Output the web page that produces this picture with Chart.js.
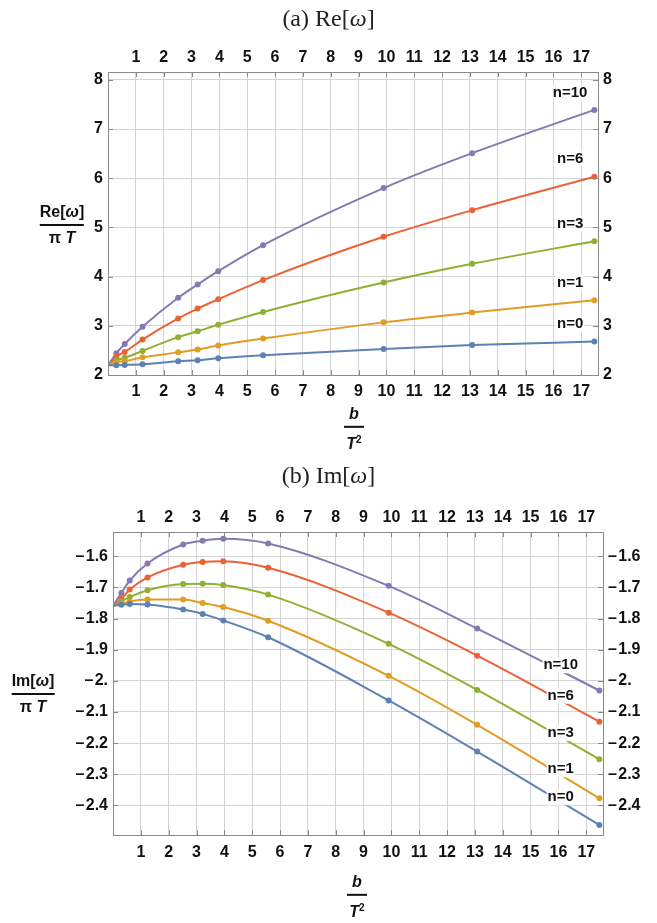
<!DOCTYPE html>
<html>
<head>
<meta charset="utf-8">
<script src="https://cdn.jsdelivr.net/npm/chart.js@4.4.1/dist/chart.umd.min.js"></script>
<style>
  body { margin: 0; background: #fff; }
  #wrap { position: relative; width: 657px; height: 923px; font-family: "Liberation Sans", Arial, sans-serif; }
  canvas { position: absolute; left: 0; }
  .cap { position: absolute; left: 0; width: 657px; text-align: center; font-family: "Liberation Serif", "DejaVu Serif", serif; font-size: 24px; color: #222; }
  .frac { position: absolute; font-weight: bold; font-size: 16px; color: #111; text-align: center; transform: translate(-50%, -50%); line-height: 18px; }
  .frac .bar { height: 2px; background: #111; margin: 3px 0 3px 0; }
</style>
</head>
<body>
<div id="wrap">
  <canvas id="ca" width="657" height="460" style="top:0;width:657px;height:460px"></canvas>
  <canvas id="cb" width="657" height="463" style="top:460px;width:657px;height:463px"></canvas>

  <div class="cap" style="top:5px">(a) Re[<i>ω</i>]</div>
  <div class="cap" style="top:462px">(b) Im[<i>ω</i>]</div>

  <div class="frac" style="left:62px;top:225px"><div>Re[<i>ω</i>]</div><div class="bar"></div><div>π <i>T</i></div></div>
  <div class="frac" style="left:33px;top:694px"><div>Im[<i>ω</i>]</div><div class="bar"></div><div>π <i>T</i></div></div>

  <div class="frac" style="left:354px;top:429px"><div><i>b</i></div><div class="bar" style="width:20px"></div><div><i>T</i><sup style="font-size:10px">2</sup></div></div>
  <div class="frac" style="left:357px;top:897px"><div><i>b</i></div><div class="bar" style="width:20px"></div><div><i>T</i><sup style="font-size:10px">2</sup></div></div>
</div>

<script>
// b / T^2 sample points
const bVals = [0, 0.3, 0.6, 1.24, 2.52, 3.22, 3.96, 5.57, 9.9, 13.08, 17.47];

// Re[w] / (pi T)
const reN0  = [2.198, 2.200, 2.205, 2.22, 2.28, 2.30, 2.34, 2.40, 2.53, 2.61, 2.68];
const reN1  = [2.198, 2.26, 2.28, 2.36, 2.46, 2.52, 2.60, 2.74, 3.07, 3.27, 3.52];
const reN3  = [2.198, 2.30, 2.35, 2.49, 2.77, 2.89, 3.02, 3.28, 3.88, 4.26, 4.72];
const reN6  = [2.198, 2.37, 2.47, 2.72, 3.15, 3.35, 3.54, 3.93, 4.81, 5.35, 6.03];
const reN10 = [2.198, 2.44, 2.63, 2.98, 3.57, 3.84, 4.11, 4.64, 5.80, 6.51, 7.39];

// Im[w] / (pi T)
const imN0  = [-1.759, -1.756, -1.753, -1.755, -1.771, -1.785, -1.806, -1.860, -2.063, -2.227, -2.463];
const imN1  = [-1.759, -1.753, -1.745, -1.739, -1.739, -1.750, -1.763, -1.807, -1.984, -2.141, -2.377];
const imN3  = [-1.759, -1.745, -1.731, -1.709, -1.689, -1.688, -1.692, -1.723, -1.881, -2.029, -2.252];
const imN6  = [-1.759, -1.737, -1.707, -1.668, -1.627, -1.618, -1.616, -1.637, -1.781, -1.919, -2.131];
const imN10 = [-1.759, -1.718, -1.678, -1.623, -1.562, -1.550, -1.544, -1.559, -1.695, -1.832, -2.031];

const seriesNames = ['n=0', 'n=1', 'n=3', 'n=6', 'n=10'];

// tick labels
const bTicks = [1, 2, 3, 4, 5, 6, 7, 8, 9, 10, 11, 12, 13, 14, 15, 16, 17];
const reTicks = [2, 3, 4, 5, 6, 7, 8];
const imTicks = [-1.6, -1.7, -1.8, -1.9, -2.0, -2.1, -2.2, -2.3, -2.4];
const imTickLabels = ['–\u200A1.6', '–\u200A1.7', '–\u200A1.8', '–\u200A1.9', '–\u200A2.', '–\u200A2.1', '–\u200A2.2', '–\u200A2.3', '–\u200A2.4'];

const colors = ['#5E81B5', '#E19C24', '#8FB032', '#EB6235', '#8778B3'];
const tickFont = { family: '"Liberation Sans", Arial, sans-serif', size: 16, weight: 'bold' };

// text labels n=... placed in data coordinates
const nLabels = {
  id: 'nLabels',
  afterDatasetsDraw(chart, args, opts) {
    const ctx = chart.ctx, xs = chart.scales.x, ys = chart.scales.y;
    ctx.save();
    ctx.font = 'bold 15px "Liberation Sans", Arial, sans-serif';
    ctx.textAlign = 'center';
    ctx.textBaseline = 'middle';
    opts.items.forEach(it => {
      const px = xs.getPixelForValue(it.x), py = ys.getPixelForValue(it.y);
      const w = ctx.measureText(it.text).width;
      ctx.fillStyle = 'rgba(255,255,255,0.9)';
      ctx.fillRect(px - w / 2 - 1, py - 8, w + 2, 16);
      ctx.fillStyle = '#111';
      ctx.fillText(it.text, px, py);
    });
    ctx.restore();
  }
};

// small inward ticks on the frame, like the original
const frameTicks = {
  id: 'frameTicks',
  afterDraw(chart) {
    const ctx = chart.ctx, a = chart.chartArea, xs = chart.scales.x, ys = chart.scales.y;
    ctx.save();
    ctx.strokeStyle = '#8a8a8a';
    ctx.lineWidth = 1;
    ctx.beginPath();
    xs.ticks.forEach(t => {
      const px = Math.round(xs.getPixelForValue(t.value)) + 0.5;
      ctx.moveTo(px, a.bottom); ctx.lineTo(px, a.bottom - 5);
      ctx.moveTo(px, a.top); ctx.lineTo(px, a.top + 5);
    });
    ys.ticks.forEach(t => {
      const py = Math.round(ys.getPixelForValue(t.value)) + 0.5;
      ctx.moveTo(a.left, py); ctx.lineTo(a.left + 5, py);
      ctx.moveTo(a.right, py); ctx.lineTo(a.right - 5, py);
    });
    ctx.stroke();
    ctx.restore();
  }
};

function toPoints(ys) {
  return bVals.map((b, i) => ({ x: b, y: ys[i] }));
}

function axis(pos, min, max, ticks, size, fmt, pad, grid) {
  const horiz = pos === 'top' || pos === 'bottom';
  return {
    type: 'linear',
    position: pos,
    min: min,
    max: max,
    afterBuildTicks: s => { s.ticks = ticks.map(v => ({ value: v })); },
    afterFit: s => { if (horiz) s.height = size; else s.width = size; },
    grid: { display: true, drawOnChartArea: grid, color: '#d4d4d4', lineWidth: 1, drawTicks: false },
    border: { display: true, color: '#8a8a8a', width: 1 },
    ticks: { font: tickFont, color: '#111', padding: pad, autoSkip: false, maxRotation: 0, callback: fmt }
  };
}

function makeChart(id, series, yMin, yMax, yTicks, yFmt, sz, labelItems) {
  const datasets = series.map((s, i) => ({
    label: seriesNames[i],
    data: toPoints(s),
    xAxisID: 'x',
    yAxisID: 'y',
    borderColor: colors[i],
    backgroundColor: colors[i],
    borderWidth: 2,
    pointRadius: ctx => (ctx.raw && ctx.raw.x === 0 ? 0 : 3),
    pointBorderWidth: 0,
    cubicInterpolationMode: 'monotone',
    fill: false
  }));
  const xFmt = v => String(v);
  return new Chart(document.getElementById(id), {
    type: 'line',
    data: { datasets: datasets },
    options: {
      responsive: false,
      animation: false,
      layout: { padding: 0 },
      scales: {
        x: axis('bottom', 0, 17.6, bTicks, sz.bottom, xFmt, sz.padB, true),
        x2: axis('top', 0, 17.6, bTicks, sz.top, xFmt, 5, false),
        y: axis('left', yMin, yMax, yTicks, sz.left, yFmt, 5, true),
        y2: axis('right', yMin, yMax, yTicks, sz.right, yFmt, 5, false)
      },
      plugins: {
        legend: { display: false },
        tooltip: { enabled: false },
        nLabels: { items: labelItems }
      }
    },
    plugins: [nLabels, frameTicks]
  });
}

const reFmt = v => String(v);
const imFmt = v => {
  const i = imTicks.findIndex(t => Math.abs(t - v) < 1e-6);
  return i >= 0 ? imTickLabels[i] : '';
};

makeChart('ca', [reN0, reN1, reN3, reN6, reN10], 2, 8.16, reTicks, reFmt,
  { top: 72, bottom: 85, left: 108, right: 59, padB: 7 },
  [
    { text: 'n=10', x: 16.6, y: 7.73 },
    { text: 'n=6', x: 16.6, y: 6.39 },
    { text: 'n=3', x: 16.6, y: 5.07 },
    { text: 'n=1', x: 16.6, y: 3.88 },
    { text: 'n=0', x: 16.6, y: 3.03 }
  ]);

makeChart('cb', [imN0, imN1, imN3, imN6, imN10], -2.495, -1.522, imTicks, imFmt,
  { top: 72, bottom: 88, left: 113, right: 54, padB: 8 },
  [
    { text: 'n=10', x: 16.08, y: -1.950 },
    { text: 'n=6', x: 16.08, y: -2.048 },
    { text: 'n=3', x: 16.08, y: -2.168 },
    { text: 'n=1', x: 16.08, y: -2.284 },
    { text: 'n=0', x: 16.08, y: -2.374 }
  ]);
</script>
</body>
</html>
